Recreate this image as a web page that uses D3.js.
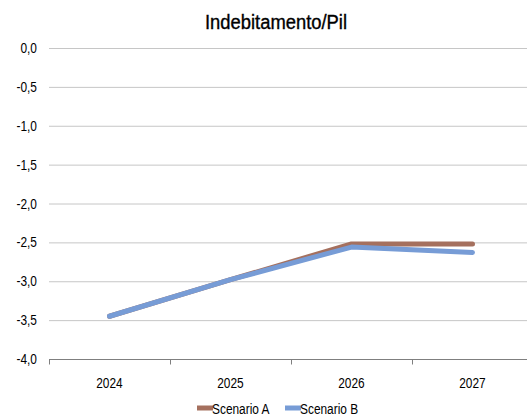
<!DOCTYPE html>
<html>
<head>
<meta charset="utf-8">
<script src="https://cdn.jsdelivr.net/npm/d3@7/dist/d3.min.js"></script>
<style>
  html, body { margin: 0; padding: 0; background: #fff; }
  svg { display: block; }
  text { font-family: "Liberation Sans Narrow", "Arial Narrow", "Liberation Sans", Arial, sans-serif; fill: #000; }
</style>
</head>
<body>
<script>
// Indebitamento/PIL by year, two scenarios
const years = ["2024", "2025", "2026", "2027"];
const scenarioA = [-3.45, -2.98, -2.52, -2.52];
const scenarioB = [-3.45, -2.98, -2.56, -2.63];
const yTicks = [0, -0.5, -1, -1.5, -2, -2.5, -3, -3.5, -4];
const seriesNames = ["Scenario A", "Scenario B"];
const seriesColors = ["#A5705E", "#779CD6"];

const W = 527, H = 416;
const margin = { top: 48, left: 49, bottom: 57 };
const plotW = 484;
const NARROW = 0.85; // horizontal squeeze for a condensed look

const svg = d3.select("body").append("svg").attr("width", W).attr("height", H);

// condense a text selection horizontally around its anchor
function condense(sel, factor) {
  sel.each(function () {
    const len = this.getComputedTextLength();
    d3.select(this)
      .attr("textLength", len * factor)
      .attr("lengthAdjust", "spacingAndGlyphs");
  });
}

const x = d3.scaleBand().domain(years).range([margin.left, margin.left + plotW]);
const y = d3.scaleLinear().domain([-4, 0]).range([H - margin.bottom, margin.top]);

// title
svg.append("text")
  .attr("x", 276).attr("y", 29)
  .attr("text-anchor", "middle")
  .style("font-size", "19.5px")
  .attr("stroke", "#000").attr("stroke-width", 0.35)
  .text("Indebitamento/Pil")
  .attr("textLength", 142)
  .attr("lengthAdjust", "spacingAndGlyphs");

// gridlines
svg.append("g")
  .selectAll("line")
  .data(yTicks.filter(d => d !== -4))
  .join("line")
  .attr("x1", margin.left).attr("x2", margin.left + plotW)
  .attr("y1", d => y(d) + 0.5).attr("y2", d => y(d) + 0.5)
  .attr("stroke", "#c6c6c6").attr("stroke-width", 1);

// y axis labels
const fmt = d => d3.format(".1f")(d).replace("−", "-").replace(".", ",");
svg.append("g")
  .selectAll("text")
  .data(yTicks)
  .join("text")
  .attr("x", 37).attr("y", d => y(d) + 5)
  .attr("text-anchor", "end")
  .style("font-size", "14px")
  .text(d => fmt(d))
  .call(condense, NARROW);

// x axis
const xAxis = svg.append("g")
  .attr("transform", `translate(0,${y(-4) + 0.5})`);
xAxis.append("line")
  .attr("x1", margin.left).attr("x2", margin.left + plotW)
  .attr("stroke", "#7f7f7f");
const bounds = years.map(d => x(d)).concat([margin.left + plotW]);
xAxis.selectAll("line.tick")
  .data(bounds)
  .join("line")
  .attr("class", "tick")
  .attr("x1", d => Math.round(d) + 0.5).attr("x2", d => Math.round(d) + 0.5)
  .attr("y1", 0).attr("y2", 5)
  .attr("stroke", "#7f7f7f");
xAxis.selectAll("text")
  .data(years)
  .join("text")
  .attr("x", d => x(d) + x.bandwidth() / 2)
  .attr("y", 28)
  .attr("text-anchor", "middle")
  .style("font-size", "14px")
  .text(d => d)
  .call(condense, NARROW);

// lines
const line = d3.line()
  .x((d, i) => x(years[i]) + x.bandwidth() / 2)
  .y(d => y(d));
[scenarioA, scenarioB].forEach((s, i) => {
  svg.append("path")
    .datum(s)
    .attr("fill", "none")
    .attr("stroke", seriesColors[i])
    .attr("stroke-width", 5)
    .attr("stroke-linecap", "round")
    .attr("stroke-linejoin", "round")
    .attr("d", line);
});

// legend
const legendX = [197, 285];
const legend = svg.append("g");
seriesNames.forEach((name, i) => {
  legend.append("line")
    .attr("x1", legendX[i]).attr("x2", legendX[i] + 16)
    .attr("y1", 408).attr("y2", 408)
    .attr("stroke", seriesColors[i]).attr("stroke-width", 5);
  legend.append("text")
    .attr("x", legendX[i] + 15).attr("y", 414)
    .style("font-size", "14px")
    .text(name)
    .call(condense, NARROW);
});
</script>
</body>
</html>
